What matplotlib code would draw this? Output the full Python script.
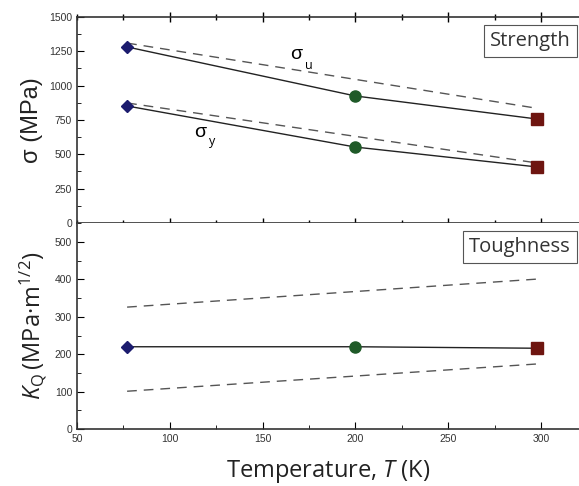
import matplotlib
matplotlib.use("Agg")
import matplotlib.pyplot as plt
from matplotlib.ticker import MultipleLocator

plt.rcParams['font.family'] = ['Liberation Sans', 'DejaVu Sans']
plt.rcParams['mathtext.fontset'] = 'custom'
plt.rcParams['mathtext.rm'] = 'Open Sans'
plt.rcParams['mathtext.it'] = 'Open Sans:italic'

# Data
temps = [77, 200, 298]
sigma_u = [1282, 925, 757]
sigma_y = [852, 553, 408]
sigma_u_band_T = [77, 298]
sigma_u_band = [1310, 835]
sigma_y_band_T = [77, 298]
sigma_y_band = [874, 437]
K_Q = [220, 220, 216]
K_band_T = [77, 298]
K_upper = [326, 401]
K_lower = [101, 174]

marker_styles = [('D', '#1c1c6e', 6.5), ('o', '#1f5a28', 8), ('s', '#6e1510', 8)]

fig = plt.figure(figsize=(5.79, 4.86), dpi=100)
left, right = 77 / 579, 1.0
ax1 = fig.add_axes([left, 1 - 223 / 486, right - left, (223 - 17) / 486])
ax2 = fig.add_axes([left, 1 - 429 / 486, right - left, (429 - 223) / 486])

dash = (0, (7, 5))
lc = '#222222'
dc = '#555555'
box = dict(boxstyle='square,pad=0.3', fc='white', ec='#555555', lw=0.8)

# Top panel
ax1.plot(temps, sigma_u, '-', color=lc, lw=1.0, zorder=2)
ax1.plot(temps, sigma_y, '-', color=lc, lw=1.0, zorder=2)
ax1.plot(sigma_u_band_T, sigma_u_band, linestyle=dash, color=dc, lw=1.0)
ax1.plot(sigma_y_band_T, sigma_y_band, linestyle=dash, color=dc, lw=1.0)
for i, (m, c, s) in enumerate(marker_styles):
    ax1.plot(temps[i], sigma_u[i], marker=m, color=c, ms=s, zorder=3)
    ax1.plot(temps[i], sigma_y[i], marker=m, color=c, ms=s, zorder=3)
ax1.text(165, 1225, 'σ', fontsize=14, ha='left', va='center')
ax1.text(173, 1150, 'u', fontsize=9, ha='left', va='center', family='Open Sans')
ax1.text(113, 662, 'σ', fontsize=14, ha='left', va='center')
ax1.text(121, 590, 'y', fontsize=9, ha='left', va='center', family='Open Sans')
ax1.text(0.983, 0.882, 'Strength', transform=ax1.transAxes, ha='right', va='center',
         fontsize=14.5, color='#333333', family='Open Sans', bbox=box)

ax1.set_xlim(50, 320.5)
ax1.set_ylim(0, 1500)
ax1.set_yticks([0, 250, 500, 750, 1000, 1250, 1500])
ax1.yaxis.set_minor_locator(MultipleLocator(125))
ax1.set_xticks([100, 150, 200, 250, 300])
ax1.xaxis.set_minor_locator(MultipleLocator(25))
ax1.tick_params(axis='x', which='major', direction='inout', length=7, width=1,
                top=True, labelbottom=False)
ax1.tick_params(axis='x', which='minor', direction='inout', length=4, width=1, top=True)
ax1.tick_params(axis='y', which='both', direction='in', labelsize=7.5, labelcolor='#333333')
ax1.tick_params(axis='y', which='major', length=5)
ax1.tick_params(axis='y', which='minor', length=3)
ax1.set_ylabel('σ (MPa)', fontsize=17, labelpad=4, color='#222222')

# Bottom panel
ax2.plot(temps, K_Q, '-', color=lc, lw=1.0, zorder=2)
ax2.plot(K_band_T, K_upper, linestyle=dash, color=dc, lw=1.0)
ax2.plot(K_band_T, K_lower, linestyle=dash, color=dc, lw=1.0)
for i, (m, c, s) in enumerate(marker_styles):
    ax2.plot(temps[i], K_Q[i], marker=m, color=c, ms=s, zorder=3)
ax2.text(0.983, 0.883, 'Toughness', transform=ax2.transAxes, ha='right', va='center',
         fontsize=14.5, color='#333333', family='Open Sans', bbox=box)

ax2.set_xlim(50, 320.5)
ax2.set_ylim(0, 551)
ax2.set_yticks([0, 100, 200, 300, 400, 500])
ax2.yaxis.set_minor_locator(MultipleLocator(50))
ax2.set_xticks([50, 100, 150, 200, 250, 300])
ax2.xaxis.set_minor_locator(MultipleLocator(25))
ax2.tick_params(axis='both', which='both', direction='in', labelsize=7.5, labelcolor='#333333')
ax2.tick_params(axis='both', which='major', length=5)
ax2.tick_params(axis='both', which='minor', length=3)
ax2.set_ylabel(r'$K_\mathrm{Q}$' + '\u2009(MPa·m$^{1/2}$)', fontsize=17, labelpad=4,
               color='#222222', family='Open Sans')
ax2.set_xlabel(r'Temperature, $T$ (K)', fontsize=17, labelpad=10, color='#222222',
               family='Open Sans')

for ax in (ax1, ax2):
    ax.spines['right'].set_visible(False)
    for sp in ax.spines.values():
        sp.set_linewidth(1.2)
        sp.set_color('#333333')
ax2.spines['top'].set_visible(False)

fig.savefig('out.png', dpi=100)
